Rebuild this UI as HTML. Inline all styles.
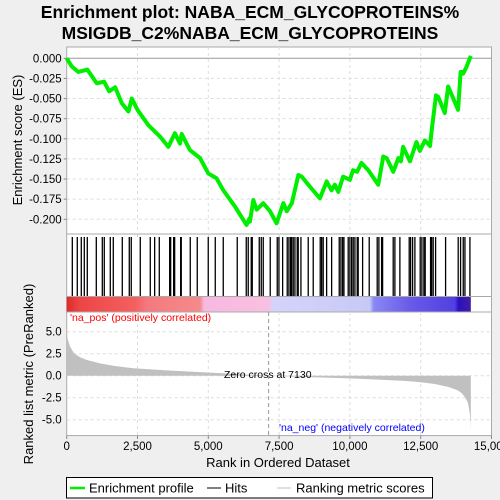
<!DOCTYPE html>
<html><head><meta charset="utf-8"><style>
body{margin:0;background:#efefef;}
svg{display:block;font-family:"Liberation Sans","DejaVu Sans",sans-serif;}
</style></head><body>
<svg id="c" width="500" height="500">
<rect x="0" y="0" width="500" height="500" fill="#efefef"/>
<text x="250" y="18" text-anchor="middle" font-size="17.5" font-weight="bold">Enrichment plot: NABA_ECM_GLYCOPROTEINS%</text>
<text x="250" y="39" text-anchor="middle" font-size="17.5" font-weight="bold">MSIGDB_C2%NABA_ECM_GLYCOPROTEINS</text>
<g id="g"></g>
</svg>
<script>
const hitRanks=[198,374,515,621,727,1045,1257,1327,1539,1645,1963,2210,2280,2598,2951,3106,3269,3636,3671,3777,3812,4024,4045,4363,4610,4998,5246,5528,6022,6340,6410,6516,6552,6799,6870,6940,7187,7434,7494,7625,7787,7847,7907,7943,7999,8059,8140,8175,8271,8528,8705,8952,9002,9058,9178,9355,9623,9683,9743,9789,9940,10000,10061,10117,10177,10258,10293,10449,10682,10964,11024,11120,11155,11529,11589,11765,12094,12143,12214,12295,12482,12542,12613,12659,12849,12885,12941,13026,13379,13824,13908,14002,14062,14238];
const esRanks=[0,176,412,730,1060,1320,1500,1710,1950,2180,2300,2500,2880,3290,3590,3820,4000,4060,4350,4710,5000,5290,5530,5940,6350,6450,6470,6590,6710,6940,7180,7410,7650,7770,7950,8180,8300,8530,8940,9180,9350,9470,9590,9760,10000,10110,10250,10410,10650,11000,11180,11300,11530,11710,11800,11880,12120,12350,12470,12650,12830,12880,13040,13120,13350,13470,13820,13910,13980,14000,14100,14270];
const esValues=[0,-0.010,-0.017,-0.014,-0.031,-0.029,-0.041,-0.036,-0.056,-0.066,-0.050,-0.064,-0.083,-0.097,-0.110,-0.093,-0.106,-0.094,-0.114,-0.124,-0.143,-0.149,-0.164,-0.184,-0.207,-0.199,-0.203,-0.176,-0.188,-0.180,-0.190,-0.205,-0.180,-0.190,-0.180,-0.145,-0.147,-0.157,-0.174,-0.153,-0.164,-0.157,-0.166,-0.147,-0.151,-0.139,-0.141,-0.130,-0.139,-0.157,-0.122,-0.124,-0.141,-0.124,-0.128,-0.110,-0.128,-0.104,-0.115,-0.102,-0.109,-0.092,-0.046,-0.048,-0.068,-0.035,-0.064,-0.017,-0.017,-0.019,-0.012,0.003];
const metricRanks=[0,30,120,250,470,700,1180,1700,2360,3530,4710,6000,7130,8000,9000,10000,11000,12000,12500,13000,13500,13800,13940,14080,14170,14230,14260,14270];
const metricValues=[5.6,4.2,3.3,2.6,2.1,1.8,1.4,1.1,0.85,0.6,0.4,0.2,0,-0.1,-0.2,-0.3,-0.45,-0.6,-0.75,-0.95,-1.3,-1.65,-1.97,-2.5,-3.1,-4.2,-5.2,-6.3];
const xTicks=[0,2500,5000,7500,10000,12500,15000];
const xTickLabels=["0","2,500","5,000","7,500","10,000","12,500","15,000"];
const esTicks=[0,-0.025,-0.05,-0.075,-0.1,-0.125,-0.15,-0.175,-0.2];
const esTickLabels=["0.000","-0.025","-0.050","-0.075","-0.100","-0.125","-0.150","-0.175","-0.200"];
const mTicks=[5,2.5,0,-2.5,-5];
const mTickLabels=["5.0","2.5","0.0","-2.5","-5.0"];
const zeroCross=7130, nTotal=14270;

const L=66.7,R=491.5;
const xs=r=>L+r*(R-L)/15000;
const yES=v=>58.3-v*805;
const yM=v=>375.7-v*8.8;
const NS="http://www.w3.org/2000/svg";
const g=document.getElementById('g');
function mk(t,a,p){const e=document.createElementNS(NS,t);for(const k in a)e.setAttribute(k,a[k]);(p||g).appendChild(e);return e;}

let p1=mk('rect',{x:L,y:47,width:R-L,height:187,fill:'#fff',stroke:'#aaa'});

let p2=mk('rect',{x:L,y:234,width:R-L,height:62.5,fill:'#fff',stroke:'#aaa'});

let p3=mk('rect',{x:L,y:296.5,width:R-L,height:15.5,fill:'#fff',stroke:'#aaa'});

let p4=mk('rect',{x:L,y:312,width:R-L,height:123.6,fill:'#fff',stroke:'#aaa'});


xTicks.forEach((t,i)=>{if(i==0||i==6)return;
 let a=mk('line',{x1:xs(t),x2:xs(t),y1:47,y2:234,stroke:'#ddd','stroke-dasharray':'3,3'});
 let b=mk('line',{x1:xs(t),x2:xs(t),y1:312,y2:435.6,stroke:'#ddd','stroke-dasharray':'3,3'});
 let c=mk('line',{x1:xs(t),x2:xs(t),y1:234,y2:237,stroke:'#ccc'});
});
esTicks.forEach((t,i)=>{
 let a=mk('line',{x1:L,x2:R,y1:yES(t),y2:yES(t),stroke:i==0?'#999':'#ddd','stroke-dasharray':i==0?'':'3,3'});
 let tx=mk('text',{x:L-5,y:yES(t)+4,'text-anchor':'end','font-size':11.5});tx.textContent=esTickLabels[i];
 let tk=mk('line',{x1:L-3,x2:L,y1:yES(t),y2:yES(t),stroke:'#888'});
});
mTicks.forEach((t,i)=>{
 let a=mk('line',{x1:L,x2:R,y1:yM(t),y2:yM(t),stroke:'#ddd','stroke-dasharray':'3,3'});
 let tx=mk('text',{x:L-5,y:yM(t)+4,'text-anchor':'end','font-size':11.5});tx.textContent=mTickLabels[i];
});
xTicks.forEach((t,i)=>{
 let tx=mk('text',{x:xs(t),y:450,'text-anchor':'middle','font-size':11.5});tx.textContent=xTickLabels[i];
 let tk=mk('line',{x1:xs(t),x2:xs(t),y1:435.6,y2:439,stroke:'#888'});
});

let defs=mk('defs',{});
let gr=mk('linearGradient',{id:'cb',x1:0,x2:1,y1:0,y2:0},defs);
[[0,'#dd2a2a'],[0.03,'#ee4444'],[0.17,'#f46060'],[0.2,'#f47a80'],[0.33,'#f58a8a'],[0.34,'#f8b8e0'],[0.5,'#f8c0e0'],[0.51,'#d4d4fa'],[0.75,'#c8c8f6'],[0.76,'#8888f4'],[0.85,'#6a5ae8'],[0.96,'#5040e0'],[0.97,'#2a10c0'],[1,'#4020a0']].forEach(s=>mk('stop',{offset:s[0],'stop-color':s[1]},gr));
let cb=mk('rect',{x:L,y:297,width:xs(nTotal)-L,height:14.5,fill:'url(#cb)'});


hitRanks.forEach(r=>{let h=mk('line',{x1:xs(r),x2:xs(r),y1:237,y2:296,stroke:'#000','stroke-width':1.3});
 });

let d='M'+xs(0)+','+yM(0);
metricRanks.forEach((r,i)=>{d+=' L'+xs(r)+','+yM(metricValues[i]);});
d+=' L'+xs(nTotal)+','+yM(0)+' Z';
let ar=mk('path',{d:d,fill:'#c0c0c0',stroke:'none'});

let zc=mk('line',{x1:xs(zeroCross),x2:xs(zeroCross),y1:312,y2:435.6,stroke:'#999','stroke-dasharray':'4,3'});

let zt=mk('text',{x:224,y:378,'font-size':10.5});zt.textContent='Zero cross at '+zeroCross;

let np=mk('text',{x:70,y:321,'font-size':10.5,fill:'#ff0000'});np.textContent="'na_pos' (positively correlated)";

let nn=mk('text',{x:279,y:431,'font-size':10.5,fill:'#0000ff'});nn.textContent="'na_neg' (negatively correlated)";


let pts=esRanks.map((r,i)=>xs(r)+','+yES(esValues[i])).join(' ');
let es=mk('polyline',{points:pts,fill:'none',stroke:'#00ee00','stroke-width':4,'stroke-linejoin':'round'});


let yt1=mk('text',{x:22,y:140,'text-anchor':'middle','font-size':13,transform:'rotate(-90 22 140)'});yt1.textContent='Enrichment score (ES)';

let yt2=mk('text',{x:33,y:374,'text-anchor':'middle','font-size':13,transform:'rotate(-90 33 374)'});yt2.textContent='Ranked list metric (PreRanked)';

let xt=mk('text',{x:278,y:467,'text-anchor':'middle','font-size':13});xt.textContent='Rank in Ordered Dataset';


let lg=mk('rect',{x:66.5,y:477.5,width:366,height:20.5,fill:'#fff',stroke:'#000'});

let l1=mk('line',{x1:70,x2:85,y1:488,y2:488,stroke:'#00ee00','stroke-width':2.5});
let t1=mk('text',{x:89,y:492.5,'font-size':13});t1.textContent='Enrichment profile';
let l2=mk('line',{x1:207,x2:221,y1:488,y2:488,stroke:'#000','stroke-width':1});
let t2=mk('text',{x:225,y:492.5,'font-size':13});t2.textContent='Hits';
let l3=mk('line',{x1:277,x2:291,y1:488,y2:488,stroke:'#c0c0c0','stroke-width':1});
let t3=mk('text',{x:296,y:492.5,'font-size':13});t3.textContent='Ranking metric scores';
</script>
</body></html>
